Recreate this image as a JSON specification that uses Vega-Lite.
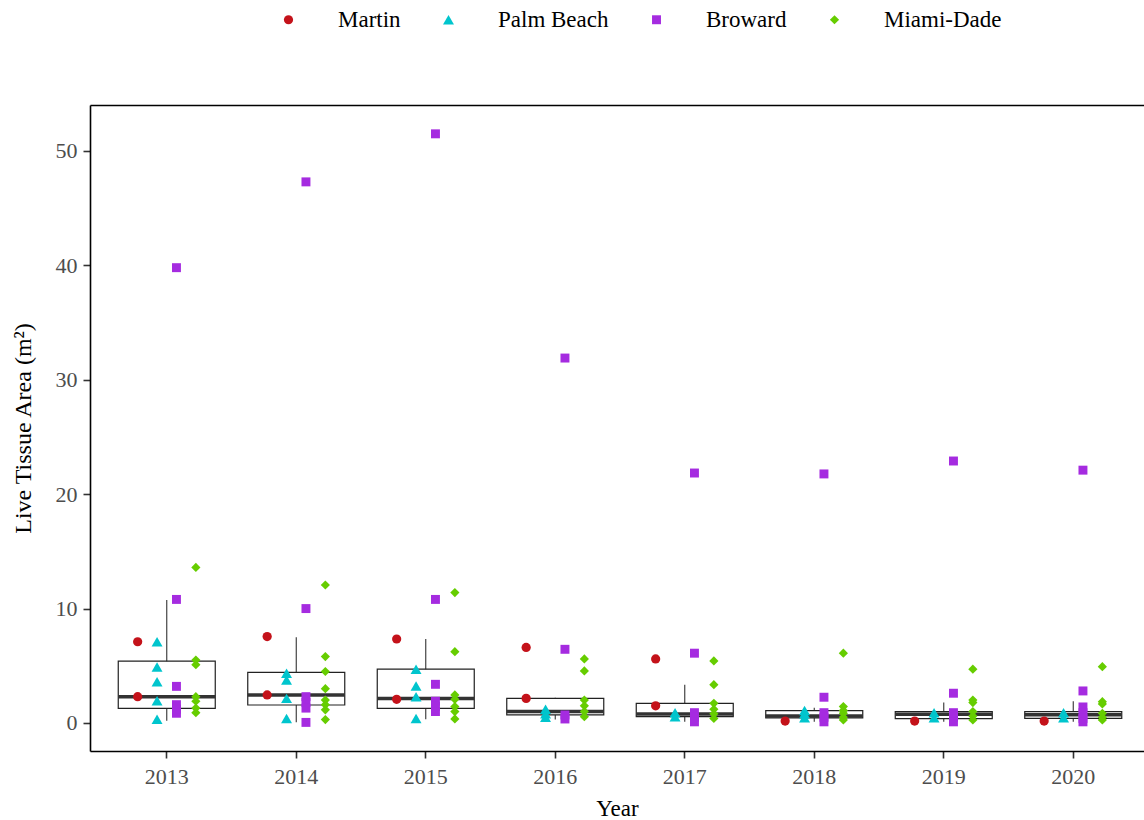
{
  "$schema": "https://vega.github.io/schema/vega-lite/v6.json",
  "width": 1054,
  "height": 646,
  "autosize": {"type": "none"},
  "padding": {"left": 90, "top": 105, "right": 0, "bottom": 69},
  "background": "white",
  "config": {
    "font": "Liberation Serif",
    "view": {"stroke": null},
    "axis": {"grid": false, "labelFont": "Liberation Serif", "titleFont": "Liberation Serif", "labelColor": "#4D4D4D", "labelFontSize": 22, "titleFontSize": 23, "titleFontWeight": "normal", "titleColor": "black", "domainColor": "black", "domainWidth": 1.6, "tickColor": "#333333", "tickWidth": 1.6, "tickSize": 7}
  },
  "datasets": {
    "boxes": [
      {"Year": "2013", "lower": 0.2, "q1": 1.28, "median": 2.3, "q3": 5.4, "upper": 10.75},
      {"Year": "2014", "lower": 0.06, "q1": 1.57, "median": 2.45, "q3": 4.43, "upper": 7.5},
      {"Year": "2015", "lower": 0.32, "q1": 1.28, "median": 2.15, "q3": 4.7, "upper": 7.34},
      {"Year": "2016", "lower": 0.3, "q1": 0.7, "median": 1.0, "q3": 2.15, "upper": 2.2},
      {"Year": "2017", "lower": 0.1, "q1": 0.55, "median": 0.79, "q3": 1.72, "upper": 3.35},
      {"Year": "2018", "lower": 0.1, "q1": 0.45, "median": 0.62, "q3": 1.08, "upper": 1.34},
      {"Year": "2019", "lower": 0.1, "q1": 0.38, "median": 0.77, "q3": 0.99, "upper": 1.78},
      {"Year": "2020", "lower": 0.1, "q1": 0.4, "median": 0.72, "q3": 0.99, "upper": 1.9}
    ],
    "points": [
      {"Year": "2013", "Region": "Martin", "Area": 7.1},
      {"Year": "2013", "Region": "Martin", "Area": 2.3},
      {"Year": "2013", "Region": "Palm Beach", "Area": 7.1},
      {"Year": "2013", "Region": "Palm Beach", "Area": 4.9},
      {"Year": "2013", "Region": "Palm Beach", "Area": 3.6},
      {"Year": "2013", "Region": "Palm Beach", "Area": 1.95},
      {"Year": "2013", "Region": "Palm Beach", "Area": 0.33},
      {"Year": "2013", "Region": "Broward", "Area": 39.8},
      {"Year": "2013", "Region": "Broward", "Area": 10.8},
      {"Year": "2013", "Region": "Broward", "Area": 3.2},
      {"Year": "2013", "Region": "Broward", "Area": 1.6},
      {"Year": "2013", "Region": "Broward", "Area": 1.2},
      {"Year": "2013", "Region": "Broward", "Area": 0.85},
      {"Year": "2013", "Region": "Miami-Dade", "Area": 13.6},
      {"Year": "2013", "Region": "Miami-Dade", "Area": 5.5},
      {"Year": "2013", "Region": "Miami-Dade", "Area": 5.1},
      {"Year": "2013", "Region": "Miami-Dade", "Area": 2.3},
      {"Year": "2013", "Region": "Miami-Dade", "Area": 1.9},
      {"Year": "2013", "Region": "Miami-Dade", "Area": 1.3},
      {"Year": "2013", "Region": "Miami-Dade", "Area": 0.9},
      {"Year": "2014", "Region": "Martin", "Area": 7.55},
      {"Year": "2014", "Region": "Martin", "Area": 2.45},
      {"Year": "2014", "Region": "Palm Beach", "Area": 4.35},
      {"Year": "2014", "Region": "Palm Beach", "Area": 3.75},
      {"Year": "2014", "Region": "Palm Beach", "Area": 2.15},
      {"Year": "2014", "Region": "Palm Beach", "Area": 0.4},
      {"Year": "2014", "Region": "Broward", "Area": 47.3},
      {"Year": "2014", "Region": "Broward", "Area": 10.0},
      {"Year": "2014", "Region": "Broward", "Area": 2.3},
      {"Year": "2014", "Region": "Broward", "Area": 1.8},
      {"Year": "2014", "Region": "Broward", "Area": 1.3},
      {"Year": "2014", "Region": "Broward", "Area": 0.05},
      {"Year": "2014", "Region": "Miami-Dade", "Area": 12.06},
      {"Year": "2014", "Region": "Miami-Dade", "Area": 5.8},
      {"Year": "2014", "Region": "Miami-Dade", "Area": 4.5},
      {"Year": "2014", "Region": "Miami-Dade", "Area": 3.0},
      {"Year": "2014", "Region": "Miami-Dade", "Area": 2.0},
      {"Year": "2014", "Region": "Miami-Dade", "Area": 1.6},
      {"Year": "2014", "Region": "Miami-Dade", "Area": 1.15},
      {"Year": "2014", "Region": "Miami-Dade", "Area": 0.3},
      {"Year": "2015", "Region": "Martin", "Area": 7.34},
      {"Year": "2015", "Region": "Martin", "Area": 2.07},
      {"Year": "2015", "Region": "Palm Beach", "Area": 4.7},
      {"Year": "2015", "Region": "Palm Beach", "Area": 3.23},
      {"Year": "2015", "Region": "Palm Beach", "Area": 2.3},
      {"Year": "2015", "Region": "Palm Beach", "Area": 0.4},
      {"Year": "2015", "Region": "Broward", "Area": 51.5},
      {"Year": "2015", "Region": "Broward", "Area": 10.8},
      {"Year": "2015", "Region": "Broward", "Area": 3.38},
      {"Year": "2015", "Region": "Broward", "Area": 1.9},
      {"Year": "2015", "Region": "Broward", "Area": 1.45},
      {"Year": "2015", "Region": "Broward", "Area": 1.0},
      {"Year": "2015", "Region": "Miami-Dade", "Area": 11.4},
      {"Year": "2015", "Region": "Miami-Dade", "Area": 6.23},
      {"Year": "2015", "Region": "Miami-Dade", "Area": 2.45},
      {"Year": "2015", "Region": "Miami-Dade", "Area": 2.07},
      {"Year": "2015", "Region": "Miami-Dade", "Area": 1.43},
      {"Year": "2015", "Region": "Miami-Dade", "Area": 1.0},
      {"Year": "2015", "Region": "Miami-Dade", "Area": 0.35},
      {"Year": "2016", "Region": "Martin", "Area": 6.6},
      {"Year": "2016", "Region": "Martin", "Area": 2.15},
      {"Year": "2016", "Region": "Palm Beach", "Area": 1.2},
      {"Year": "2016", "Region": "Palm Beach", "Area": 0.8},
      {"Year": "2016", "Region": "Palm Beach", "Area": 0.5},
      {"Year": "2016", "Region": "Broward", "Area": 31.9},
      {"Year": "2016", "Region": "Broward", "Area": 6.44},
      {"Year": "2016", "Region": "Broward", "Area": 0.7},
      {"Year": "2016", "Region": "Broward", "Area": 0.35},
      {"Year": "2016", "Region": "Miami-Dade", "Area": 5.6},
      {"Year": "2016", "Region": "Miami-Dade", "Area": 4.55},
      {"Year": "2016", "Region": "Miami-Dade", "Area": 2.0},
      {"Year": "2016", "Region": "Miami-Dade", "Area": 1.5},
      {"Year": "2016", "Region": "Miami-Dade", "Area": 1.0},
      {"Year": "2016", "Region": "Miami-Dade", "Area": 0.55},
      {"Year": "2017", "Region": "Martin", "Area": 5.6},
      {"Year": "2017", "Region": "Martin", "Area": 1.5},
      {"Year": "2017", "Region": "Palm Beach", "Area": 0.9},
      {"Year": "2017", "Region": "Palm Beach", "Area": 0.55},
      {"Year": "2017", "Region": "Broward", "Area": 21.85},
      {"Year": "2017", "Region": "Broward", "Area": 6.1},
      {"Year": "2017", "Region": "Broward", "Area": 0.9},
      {"Year": "2017", "Region": "Broward", "Area": 0.5},
      {"Year": "2017", "Region": "Broward", "Area": 0.1},
      {"Year": "2017", "Region": "Miami-Dade", "Area": 5.42},
      {"Year": "2017", "Region": "Miami-Dade", "Area": 3.35},
      {"Year": "2017", "Region": "Miami-Dade", "Area": 1.72},
      {"Year": "2017", "Region": "Miami-Dade", "Area": 1.2},
      {"Year": "2017", "Region": "Miami-Dade", "Area": 0.8},
      {"Year": "2017", "Region": "Miami-Dade", "Area": 0.4},
      {"Year": "2018", "Region": "Martin", "Area": 0.17},
      {"Year": "2018", "Region": "Palm Beach", "Area": 1.1},
      {"Year": "2018", "Region": "Palm Beach", "Area": 0.8},
      {"Year": "2018", "Region": "Palm Beach", "Area": 0.45},
      {"Year": "2018", "Region": "Broward", "Area": 21.77},
      {"Year": "2018", "Region": "Broward", "Area": 2.25},
      {"Year": "2018", "Region": "Broward", "Area": 0.9},
      {"Year": "2018", "Region": "Broward", "Area": 0.5},
      {"Year": "2018", "Region": "Broward", "Area": 0.1},
      {"Year": "2018", "Region": "Miami-Dade", "Area": 6.1},
      {"Year": "2018", "Region": "Miami-Dade", "Area": 1.43},
      {"Year": "2018", "Region": "Miami-Dade", "Area": 1.1},
      {"Year": "2018", "Region": "Miami-Dade", "Area": 0.85},
      {"Year": "2018", "Region": "Miami-Dade", "Area": 0.5},
      {"Year": "2018", "Region": "Miami-Dade", "Area": 0.26},
      {"Year": "2019", "Region": "Martin", "Area": 0.17},
      {"Year": "2019", "Region": "Palm Beach", "Area": 0.9},
      {"Year": "2019", "Region": "Palm Beach", "Area": 0.45},
      {"Year": "2019", "Region": "Broward", "Area": 22.9},
      {"Year": "2019", "Region": "Broward", "Area": 2.6},
      {"Year": "2019", "Region": "Broward", "Area": 0.9},
      {"Year": "2019", "Region": "Broward", "Area": 0.5},
      {"Year": "2019", "Region": "Broward", "Area": 0.1},
      {"Year": "2019", "Region": "Miami-Dade", "Area": 4.7},
      {"Year": "2019", "Region": "Miami-Dade", "Area": 2.0},
      {"Year": "2019", "Region": "Miami-Dade", "Area": 1.78},
      {"Year": "2019", "Region": "Miami-Dade", "Area": 1.0},
      {"Year": "2019", "Region": "Miami-Dade", "Area": 0.6},
      {"Year": "2019", "Region": "Miami-Dade", "Area": 0.26},
      {"Year": "2020", "Region": "Martin", "Area": 0.17},
      {"Year": "2020", "Region": "Palm Beach", "Area": 0.9},
      {"Year": "2020", "Region": "Palm Beach", "Area": 0.45},
      {"Year": "2020", "Region": "Broward", "Area": 22.1},
      {"Year": "2020", "Region": "Broward", "Area": 2.8},
      {"Year": "2020", "Region": "Broward", "Area": 1.4},
      {"Year": "2020", "Region": "Broward", "Area": 0.9},
      {"Year": "2020", "Region": "Broward", "Area": 0.4},
      {"Year": "2020", "Region": "Broward", "Area": 0.1},
      {"Year": "2020", "Region": "Miami-Dade", "Area": 4.92},
      {"Year": "2020", "Region": "Miami-Dade", "Area": 1.86},
      {"Year": "2020", "Region": "Miami-Dade", "Area": 1.66},
      {"Year": "2020", "Region": "Miami-Dade", "Area": 0.85},
      {"Year": "2020", "Region": "Miami-Dade", "Area": 0.5},
      {"Year": "2020", "Region": "Miami-Dade", "Area": 0.26}
    ]
  },
  "layer": [
    {
      "data": {"name": "boxes"},
      "mark": {"type": "rule", "color": "#333333", "strokeWidth": 1.1},
      "encoding": {
        "x": {"field": "Year", "type": "ordinal", "scale": {"type": "band", "paddingInner": 0, "paddingOuter": 0.0695, "align": 0.667, "round": false}, "axis": {"orient": "top", "labels": false, "ticks": false, "title": null, "domain": true}},
        "y": {"field": "lower", "type": "quantitative", "scale": {"domain": [-2.45, 54.02], "nice": false, "zero": false}, "axis": {"values": [0, 10, 20, 30, 40, 50], "title": "Live Tissue Area (m²)", "titleFontSize": 24, "labelPadding": 6, "titlePadding": 20}},
        "y2": {"field": "upper"}
      }
    },
    {
      "data": {"name": "boxes"},
      "mark": {"type": "bar", "fill": "white", "stroke": "#222222", "strokeWidth": 1.2, "width": 97},
      "encoding": {
        "x": {"field": "Year", "type": "ordinal", "axis": null},
        "y": {"field": "q1", "type": "quantitative"},
        "y2": {"field": "q3"}
      }
    },
    {
      "data": {"name": "boxes"},
      "mark": {"type": "tick", "color": "#333333", "thickness": 3.5, "size": 97, "opacity": 1},
      "encoding": {
        "x": {"field": "Year", "type": "ordinal", "axis": null},
        "y": {"field": "median", "type": "quantitative"}
      }
    },
    {
      "data": {"name": "points"},
      "mark": {"type": "point", "filled": true, "opacity": 1},
      "encoding": {
        "x": {"field": "Year", "type": "ordinal", "axis": {"orient": "bottom", "title": "Year", "labelAngle": 0, "labelPadding": 8, "titlePadding": 10}},
        "xOffset": {"field": "Region", "type": "nominal", "scale": {"domain": ["Martin", "Palm Beach", "Broward", "Miami-Dade"], "range": [35.65, 93.85], "paddingInner": 0, "paddingOuter": 0}},
        "y": {"field": "Area", "type": "quantitative"},
        "size": {"field": "Region", "type": "nominal", "scale": {"type": "ordinal", "domain": ["Martin", "Palm Beach", "Broward", "Miami-Dade"], "range": [85, 120, 80, 85]}, "legend": null},
        "color": {"field": "Region", "type": "nominal", "scale": {"domain": ["Martin", "Palm Beach", "Broward", "Miami-Dade"], "range": ["#C4121A", "#00C5CD", "#A52BE0", "#66CD00"]}, "legend": {"title": null, "orient": "none", "direction": "horizontal", "legendX": 187, "legendY": -97, "labelFontSize": 23, "labelColor": "black", "labelFont": "Liberation Serif", "symbolSize": 70, "labelOffset": 38, "columnPadding": 36, "padding": 0}},
        "shape": {"field": "Region", "type": "nominal", "scale": {"domain": ["Martin", "Palm Beach", "Broward", "Miami-Dade"], "range": ["circle", "triangle-up", "square", "diamond"]}}
      }
    }
  ]
}
